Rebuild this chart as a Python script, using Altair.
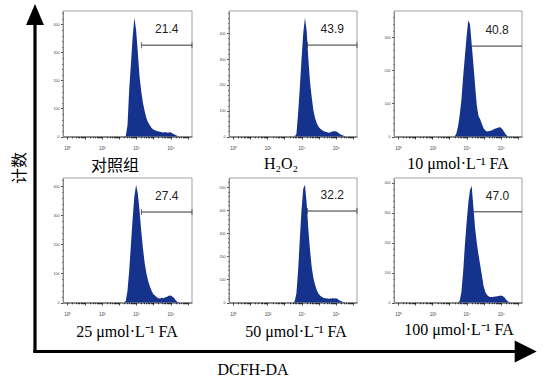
import math
import altair as alt
import pandas as pd

# ---------------- data ----------------
decade_bins = [3.3, 3.4, 3.5, 3.6, 3.7, 3.8, 3.9, 4.0, 4.1, 4.2, 4.3, 4.4,
               4.5, 4.6, 4.7, 4.8, 4.9, 5.0, 5.1, 5.2, 5.3, 5.4, 5.5, 5.6,
               5.7, 5.8, 5.9, 6.0, 6.1, 6.2, 6.3, 6.4, 6.5, 6.6]

counts_control = [0, 2, 40, 170, 260, 355, 424, 380, 300, 215, 160, 120,
                  90, 65, 50, 40, 30, 25, 22, 20, 18, 17, 15, 14,
                  16, 13, 14, 15, 12, 8, 5, 2, 0, 0]
counts_h2o2 = [0, 0, 0, 0, 10, 90, 190, 300, 400, 460, 410, 300,
               210, 150, 100, 70, 50, 38, 30, 25, 20, 18, 16, 15,
               16, 19, 20, 20, 17, 12, 8, 5, 2, 0]
counts_fa10 = [0, 8, 30, 65, 110, 180, 240, 300, 350, 340, 280, 220,
               155, 95, 62, 52, 38, 25, 18, 15, 16, 17, 19, 22,
               24, 26, 28, 27, 22, 14, 6, 1, 0, 0]
counts_fa25 = [0, 5, 40, 110, 200, 290, 365, 405, 375, 315, 245, 185,
               135, 100, 75, 55, 40, 28, 24, 18, 15, 14, 16, 15,
               18, 20, 23, 24, 21, 16, 8, 3, 0, 0]
counts_fa50 = [0, 0, 0, 5, 40, 140, 275, 400, 493, 510, 430, 315,
               225, 150, 105, 75, 52, 38, 29, 24, 20, 18, 17, 16,
               17, 18, 17, 18, 16, 10, 6, 3, 0, 0]
counts_fa100 = [0, 0, 0, 5, 35, 100, 190, 265, 330, 375, 390, 320,
                250, 200, 160, 125, 90, 55, 35, 25, 20, 18, 18, 19,
                20, 21, 22, 23, 22, 18, 11, 5, 1, 0]

panel_counts = [counts_control, counts_h2o2, counts_fa10,
                counts_fa25, counts_fa50, counts_fa100]
panel_titles = ["对照组", "H₂O₂", "10 μmol·L⁻¹ FA",
                "25 μmol·L⁻¹ FA", "50 μmol·L⁻¹ FA", "100 μmol·L⁻¹ FA"]
gate_percent = ["21.4", "43.9", "40.8", "27.4", "32.2", "47.0"]
gate_start = [4.31, 4.35, 4.33, 4.31, 4.35, 4.38]
gate_level = [326, 354, 273, 311, 396, 303]
y_max = [448, 486, 379, 428, 539, 416]
gate_caps = [True, True, False, True, True, False]
x_domain = [-0.25, 7.25]

# ---------------- layout (pixels) ----------------
W, H = 546, 380
col_x = [(63, 192), (229, 357), (394, 522)]
row_y = [(11, 136.5), (178, 302.5)]
title_pos = [(115, 166), (281, 164), (458, 164),
             (127, 332), (296, 332), (459, 330)]
title_font = ["Noto Sans CJK SC", "Liberation Serif", "Liberation Serif",
              "Liberation Serif", "Liberation Serif", "Liberation Serif"]

HIST_COLOR = "#15328c"

x_tick_values = [d + math.log10(k) for d in range(0, 7) for k in range(1, 10)] + [7]
x_label_expr = ("datum.value === 0 ? '10⁰' : datum.value === 2 ? '10²' : "
                "datum.value === 4 ? '10⁴' : datum.value === 6 ? '10⁶' : ''")

one = pd.DataFrame({"k": [0]})
layers = []

for i in range(6):
    r, c = divmod(i, 3)
    x0, x1 = col_x[c]
    y0, y1 = row_y[r]
    xs = alt.Scale(domain=x_domain, range=[x0, x1], nice=False, zero=False)
    ys = alt.Scale(domain=[0, y_max[i]], range=[y1, y0], nice=False, zero=False)

    x_axis = alt.Axis(
        orient="bottom", offset=y1 - H, values=x_tick_values, labelExpr=x_label_expr,
        title=None, grid=False, domainColor="#000", domainWidth=0.9,
        tickColor="#000", tickWidth=0.7,
        tickSize={"condition": {"test": "abs(datum.value - round(datum.value)) < 0.001", "value": 2.5}, "value": 1.3},
        labelFontSize=4.5, labelColor="#444", labelPadding=6, labelOverlap=False,
        labelFlush=False, labelBound=False, labelFont="Liberation Sans")
    y_axis = alt.Axis(
        orient="left", offset=-x0, values=list(range(0, y_max[i], 20)),
        labelExpr="datum.value % 100 === 0 ? datum.label : ''",
        title=None, grid=False, domainColor="#555", domainWidth=0.7,
        tickColor="#000", tickWidth=0.7,
        tickSize={"condition": {"test": "datum.value % 100 === 0", "value": 2.5}, "value": 1.3},
        labelFontSize=3.6, labelColor="#444", labelPadding=1.5, labelOverlap=False,
        labelFlush=False, labelBound=False, labelFont="Liberation Sans")

    frame = alt.Chart(one).mark_rect(fillOpacity=0, stroke="#8c8c8c", strokeWidth=0.8).encode(
        x=alt.XDatum(x_domain[0], type="quantitative", scale=xs, axis=None),
        x2=alt.X2Datum(x_domain[1]),
        y=alt.YDatum(0, type="quantitative", scale=ys, axis=None),
        y2=alt.Y2Datum(y_max[i]),
    )
    layers.append(frame)

    df = pd.DataFrame({"decade": decade_bins, "count": panel_counts[i]})
    area = alt.Chart(df).mark_area(color=HIST_COLOR, interpolate="linear").encode(
        x=alt.X("decade:Q", scale=xs, axis=x_axis),
        y=alt.Y("count:Q", scale=ys, axis=y_axis),
    )
    layers.append(area)

    gdf = pd.DataFrame({"start": [gate_start[i]], "end": [x_domain[1]],
                        "level": [gate_level[i]], "label": [gate_percent[i]]})
    gate = alt.Chart(gdf).mark_rule(color="#333", strokeWidth=1).encode(
        x=alt.X("start:Q", scale=xs, axis=None),
        x2="end:Q",
        y=alt.Y("level:Q", scale=ys, axis=None),
    )
    layers.append(gate)
    if gate_caps[i]:
        for col in ["start", "end"]:
            cap = alt.Chart(gdf).mark_tick(orient="vertical", size=6, thickness=1, color="#333").encode(
                x=alt.X(f"{col}:Q", scale=xs, axis=None),
                y=alt.Y("level:Q", scale=ys, axis=None),
            )
            layers.append(cap)
    label = alt.Chart(gdf).transform_calculate(mid="(datum.start + datum.end) / 2").mark_text(
        font="Liberation Sans", fontSize=12, dy=-16, align="center", baseline="middle", color="#222"
    ).encode(
        x=alt.X("mid:Q", scale=xs, axis=None),
        y=alt.Y("level:Q", scale=ys, axis=None),
        text="label:N",
    )
    layers.append(label)

    tx, ty = title_pos[i]
    title = alt.Chart(one).mark_text(
        font=title_font[i], fontSize=16, align="center", baseline="middle", color="#000"
    ).encode(x=alt.value(tx), y=alt.value(ty), text=alt.value(panel_titles[i]))
    layers.append(title)

# big axis arrows
v_line = alt.Chart(one).mark_rule(color="#000", strokeWidth=3.2, strokeCap="square").encode(
    x=alt.value(35), y=alt.value(20), y2=alt.value(351.5))
h_line = alt.Chart(one).mark_rule(color="#000", strokeWidth=3.2, strokeCap="square").encode(
    x=alt.value(35), x2=alt.value(520), y=alt.value(351.5))
up_head = alt.Chart(one).mark_point(
    shape="M0,-1L0.85,1L-0.85,1Z", filled=True, size=441, color="#000", opacity=1, strokeWidth=0
).encode(x=alt.value(35), y=alt.value(14.5))
right_head = alt.Chart(one).mark_point(
    shape="M1,0L-1,-1L-1,1Z", filled=True, size=484, color="#000", opacity=1, strokeWidth=0
).encode(x=alt.value(525.7), y=alt.value(351.5))
y_title = alt.Chart(one).mark_text(
    font="Noto Sans CJK SC", fontSize=16, angle=270, align="center", baseline="middle", color="#000"
).encode(x=alt.value(20), y=alt.value(168), text=alt.value("计数"))
x_title = alt.Chart(one).mark_text(
    font="Liberation Serif", fontSize=16, align="center", baseline="middle", color="#000"
).encode(x=alt.value(253), y=alt.value(370), text=alt.value("DCFH-DA"))

layers += [v_line, h_line, up_head, right_head, y_title, x_title]

chart = alt.layer(*layers).resolve_scale(
    x="independent", y="independent"
).properties(
    width=W, height=H, autosize="none", padding=0
).configure_view(stroke=None)

chart.save("out.html", embed_options={"renderer": "svg", "actions": False})
